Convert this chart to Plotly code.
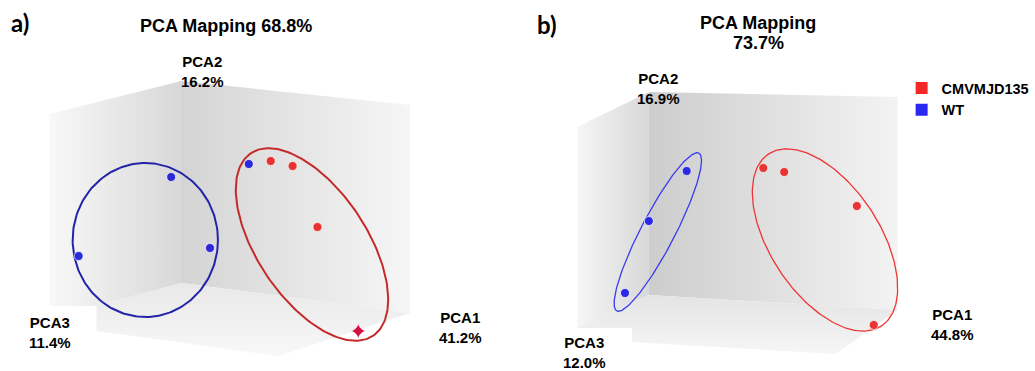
import numpy as np
import plotly.graph_objects as go

# ---------------- data (projected PCA scores) ----------------
# Panel a
a_wt_x = [172, 79, 211, 250]
a_wt_y = [177, 256, 248, 164]
a_tg_x = [272, 294, 319]
a_tg_y = [161, 166, 227]
a_out_x = [360]
a_out_y = [331]
# Panel b
b_wt_x = [690, 652, 628]
b_wt_y = [171, 221, 293]
b_tg_x = [767, 788, 861, 878]
b_tg_y = [168, 172, 206, 325]

# group ellipses: centre x, centre y, semi-axis a, semi-axis b, angle (deg)
ell_a_wt = (146, 240, 73, 77, 0)
ell_a_tg = (313.5, 244.5, 110, 55, 56)
ell_b_wt = (661, 232, 89, 17, -62.4)
ell_b_tg = (829, 240, 103, 55, 56.5)

labels = {
    "a_title": "PCA Mapping 68.8%",
    "a_pc1": "PCA1<br>41.2%", "a_pc2": "PCA2<br>16.2%", "a_pc3": "PCA3<br>11.4%",
    "b_title1": "PCA Mapping", "b_title2": "73.7%",
    "b_pc1": "PCA1<br>44.8%", "b_pc2": "PCA2<br>16.9%", "b_pc3": "PCA3<br>12.0%",
}
groups = ["CMVMJD135", "WT"]

W, H = 1035, 371
fig = go.Figure()


def panel_poly(xs, ys, c0, c1, kind, start, stop):
    fig.add_trace(go.Scatter(
        x=xs + [xs[0]], y=ys + [ys[0]], mode="lines", fill="toself",
        line=dict(width=0), hoverinfo="skip", showlegend=False,
        fillgradient=dict(type=kind, colorscale=[[0, c0], [1, c1]], start=start, stop=stop)))


# panel a box
panel_poly([50, 182, 182, 97, 50], [114, 81, 283, 306, 306], "#f8f8f8", "#d8d8d8", "horizontal", 50, 182)
panel_poly([182, 412, 412, 182], [81, 105, 313, 283], "#d4d4d4", "#f6f6f6", "horizontal", 182, 412)
panel_poly([182, 412, 280, 97, 97], [283, 313, 356, 331, 306], "#e8e8e8", "#f8f8f8", "vertical", 283, 356)
# panel b box
panel_poly([580, 652, 652, 580], [127, 92, 295, 328], "#f6f6f6", "#d8d8d8", "horizontal", 580, 652)
panel_poly([652, 902, 902, 652], [92, 97, 310, 295], "#cdcdcd", "#f3f3f3", "horizontal", 652, 902)
panel_poly([652, 902, 840, 635, 635, 580], [295, 310, 354, 342, 328, 328], "#e4e4e4", "#f6f6f6", "vertical", 295, 354)


def ellipse(p, color, width):
    cx, cy, a, b, ang = p
    t = np.linspace(0, 2 * np.pi, 200)
    th = np.deg2rad(ang)
    x = cx + a * np.cos(t) * np.cos(th) - b * np.sin(t) * np.sin(th)
    y = cy + a * np.cos(t) * np.sin(th) + b * np.sin(t) * np.cos(th)
    fig.add_trace(go.Scatter(x=x, y=y, mode="lines", line=dict(color=color, width=width),
                             hoverinfo="skip", showlegend=False))


ellipse(ell_a_wt, "#2424a8", 2)
ellipse(ell_a_tg, "#c42a2a", 2)
ellipse(ell_b_wt, "#3a3af0", 1.3)
ellipse(ell_b_tg, "#f03434", 1.3)


def pts(x, y, color, symbol="circle", size=9):
    fig.add_trace(go.Scatter(x=x, y=y, mode="markers", showlegend=False, hoverinfo="skip",
                             marker=dict(color=color, size=size, symbol=symbol,
                                         line=dict(color="rgba(255,255,255,0.7)", width=1))))


pts(a_wt_x, a_wt_y, "#2a2ad8")
pts(a_tg_x, a_tg_y, "#e83232")
pts(a_out_x, a_out_y, "#d0103e", symbol="star-diamond", size=11)
pts(b_wt_x, b_wt_y, "#2a2ae6")
pts(b_tg_x, b_tg_y, "#e83434")

# legend entries
for name, col in zip(groups, ["#f02828", "#2828f0"]):
    fig.add_trace(go.Scatter(x=[None], y=[None], mode="markers", name=name,
                             marker=dict(symbol="square", size=12, color=col)))

F = "Liberation Sans, Arial, sans-serif"


def txt(x, y, s, size=15, family=F):
    fig.add_annotation(x=x, y=y, text="<b>" + s + "</b>", showarrow=False, xanchor="center",
                       yanchor="middle", font=dict(family=family, size=size, color="#000"))


txt(20, 22, "a)", size=24, family="Lato, Open Sans, sans-serif")
txt(550, 24, "b)", size=24, family="Lato, Open Sans, sans-serif")
txt(227, 26, labels["a_title"], size=18)
txt(203, 71, labels["a_pc2"])
txt(50, 332, labels["a_pc3"])
txt(463, 327, labels["a_pc1"])
txt(762, 23, labels["b_title1"], size=18)
txt(762, 43, labels["b_title2"], size=18)
txt(662, 88, labels["b_pc2"])
txt(587, 352, labels["b_pc3"])
txt(957, 324, labels["b_pc1"])

fig.update_layout(
    width=W, height=H, margin=dict(l=0, r=0, t=0, b=0),
    paper_bgcolor="white", plot_bgcolor="white",
    xaxis=dict(range=[0, W], visible=False, fixedrange=True),
    yaxis=dict(range=[H, 0], visible=False, fixedrange=True),
    showlegend=True,
    legend=dict(x=906 / W, y=1 - 72 / H, xanchor="left", yanchor="top",
                bgcolor="rgba(0,0,0,0)",
                font=dict(family=F, size=14.5, color="#000", weight="bold"),
                itemsizing="constant", tracegroupgap=0),
)
fig.write_html("out.html")
